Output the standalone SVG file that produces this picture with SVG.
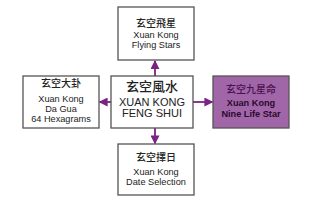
<svg xmlns="http://www.w3.org/2000/svg" width="310" height="201" viewBox="0 0 310 201">
<defs>
<marker id="ah" viewBox="0 0 10 10" refX="9" refY="5" markerWidth="5" markerHeight="5" orient="auto" markerUnits="strokeWidth">
<path d="M0,0 L10,5 L0,10 z" fill="#7b2382"/>
</marker>
<style>
.box{fill:#fff;stroke:#555;stroke-width:1.3}
.hl{fill:#a066a8;stroke:#555;stroke-width:1.3}
.zh{font-family:"Noto Sans CJK SC",sans-serif;font-size:10px;font-weight:500;fill:#222;text-anchor:middle}
.en{font-family:"Liberation Sans",sans-serif;font-size:9.2px;fill:#222;text-anchor:middle}
.c{stroke:#7b2382;stroke-width:1.8;fill:none}
</style>
</defs>
<rect width="310" height="201" fill="#fff"/>
<g id="connectors">
<line class="c" x1="155" y1="76" x2="155" y2="61" marker-end="url(#ah)"/>
<line class="c" x1="111" y1="102" x2="99.5" y2="102" marker-end="url(#ah)"/>
<line class="c" x1="193" y1="102" x2="212.5" y2="102" marker-end="url(#ah)"/>
<line class="c" x1="155" y1="128" x2="155" y2="143.5" marker-end="url(#ah)"/>
</g>
<g id="top">
<rect class="box" x="118" y="7" width="76" height="53"/>
<text class="zh" x="156" y="27">玄空飛星</text>
<text class="en" x="156" y="37.5">Xuan Kong</text>
<text class="en" x="156" y="48">Flying Stars</text>
</g>
<g id="left">
<rect class="box" x="23" y="76" width="76" height="52"/>
<text class="zh" x="61" y="87">玄空大卦</text>
<text class="en" x="61" y="101.5">Xuan Kong</text>
<text class="en" x="61" y="111.5">Da Gua</text>
<text class="en" x="61" y="122">64 Hexagrams</text>
</g>
<g id="center">
<rect class="box" x="111" y="76" width="82" height="52"/>
<text class="zh" x="152" y="91" style="font-size:13px">玄空風水</text>
<text class="en" x="152" y="105.5" style="font-size:11px">XUAN KONG</text>
<text class="en" x="152" y="116.5" style="font-size:11px">FENG SHUI</text>
</g>
<g id="right">
<rect class="hl" x="213" y="76" width="76" height="52"/>
<text class="zh" x="251" y="93" style="fill:#4a1050">玄空九星命</text>
<text class="en" x="251" y="105.5" style="font-weight:bold;fill:#2a0a2e">Xuan Kong</text>
<text class="en" x="251" y="117" style="font-weight:bold;fill:#2a0a2e">Nine Life Star</text>
</g>
<g id="bottom">
<rect class="box" x="118" y="144" width="76" height="51"/>
<text class="zh" x="156" y="161">玄空擇日</text>
<text class="en" x="156" y="174.5">Xuan Kong</text>
<text class="en" x="156" y="185">Date Selection</text>
</g>
</svg>
